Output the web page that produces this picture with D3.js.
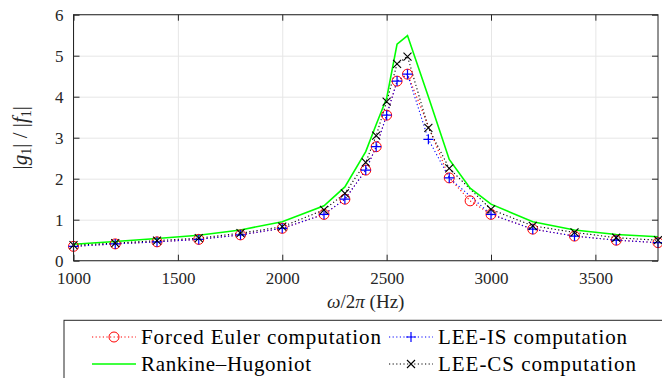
<!DOCTYPE html>
<html>
<head>
<meta charset="utf-8">
<style>
  body { margin: 0; background: #fff; font-family: "Liberation Serif", serif; }
  svg { display: block; }
</style>
</head>
<body>
<svg id="chart" width="662" height="378" font-family="Liberation Serif" style="font-family: Liberation Serif"></svg>
<script src="https://cdn.jsdelivr.net/npm/d3@7"></script>
<script>
// frequencies (Hz) and |g1|/|f1| values
const freqRH    = [1000,1200,1400,1600,1800,2000,2200,2300,2400,2450,2500,2550,2600,2700,2800,2900,3000,3200,3400,3600,3800];
const valRH     = [0.40,0.47,0.54,0.62,0.75,0.95,1.34,1.80,2.66,3.32,3.96,5.28,5.49,4.00,2.47,1.77,1.38,0.95,0.75,0.64,0.585];

const freqEuler = [1000,1200,1400,1600,1800,2000,2200,2300,2400,2450,2500,2550,2600,2800,2900,3000,3200,3400,3600,3800];
const valEuler  = [0.35,0.41,0.46,0.52,0.63,0.79,1.13,1.50,2.21,2.78,3.55,4.38,4.55,2.02,1.46,1.13,0.77,0.60,0.50,0.44];

const freqLEE   = [1000,1200,1400,1600,1800,2000,2200,2300,2400,2450,2500,2550,2600,2700,2800,3000,3200,3400,3600,3800];
const valIS     = [0.35,0.41,0.46,0.52,0.63,0.79,1.13,1.50,2.21,2.78,3.55,4.38,4.55,2.96,2.02,1.13,0.77,0.60,0.50,0.44];
const valCS     = [0.38,0.43,0.49,0.55,0.67,0.83,1.24,1.64,2.40,3.05,3.88,4.80,4.98,3.24,2.25,1.25,0.85,0.69,0.56,0.50];

const xTicks = [1000,1500,2000,2500,3000,3500];
const yTicks = [0,1,2,3,4,5,6];

const FONT = "Liberation Serif";
const svg = d3.select("#chart");
const pL = 73.5, pR = 658, pT = 14.7, pB = 260.7;

const x = d3.scaleLinear().domain([1000, 3800]).range([pL, pR]);
const y = d3.scaleLinear().domain([0, 6]).range([pB, pT]);

// grid
svg.append("g")
  .attr("transform", `translate(0,${pB})`)
  .call(d3.axisBottom(x).tickValues(xTicks).tickSize(-(pB - pT)).tickFormat(""))
  .call(g => g.select(".domain").remove())
  .call(g => g.selectAll("line").attr("stroke", "#e6e6e6"));
svg.append("g")
  .attr("transform", `translate(${pL},0)`)
  .call(d3.axisLeft(y).tickValues(yTicks).tickSize(-(pR - pL)).tickFormat(""))
  .call(g => g.select(".domain").remove())
  .call(g => g.selectAll("line").attr("stroke", "#e6e6e6"));

// series
const line = d3.line().x(d => x(d[0])).y(d => y(d[1]));
const zip = (a, b) => a.map((v, i) => [v, b[i]]);

const rh = zip(freqRH, valRH);
const euler = zip(freqEuler, valEuler);
const is = zip(freqLEE, valIS);
const cs = zip(freqLEE, valCS);

svg.append("path").datum(euler).attr("d", line)
  .attr("fill", "none").attr("stroke", "#ff0000").attr("stroke-width", 1.1).attr("stroke-dasharray", "1.2,2.4");
svg.append("path").datum(is).attr("d", line)
  .attr("fill", "none").attr("stroke", "#0000ff").attr("stroke-width", 1.1).attr("stroke-dasharray", "1.2,2.4");
svg.append("path").datum(cs).attr("d", line)
  .attr("fill", "none").attr("stroke", "#000").attr("stroke-width", 1.1).attr("stroke-dasharray", "1.2,2.4");
svg.append("path").datum(rh).attr("d", line)
  .attr("fill", "none").attr("stroke", "#00ff00").attr("stroke-width", 1.6);

// markers
function circleMark(g, px, py, col) {
  g.append("circle").attr("cx", px).attr("cy", py).attr("r", 5)
    .attr("fill", "none").attr("stroke", col).attr("stroke-width", 1);
}
function plusMark(g, px, py, col) {
  g.append("path").attr("d", `M${px - 5},${py}H${px + 5}M${px},${py - 5}V${py + 5}`)
    .attr("stroke", col).attr("stroke-width", 1.2);
}
function crossMark(g, px, py, col) {
  const s = 4;
  g.append("path").attr("d", `M${px - s},${py - s}L${px + s},${py + s}M${px - s},${py + s}L${px + s},${py - s}`)
    .attr("stroke", col).attr("stroke-width", 1.1);
}
const mk = svg.append("g");
euler.forEach(d => circleMark(mk, x(d[0]), y(d[1]), "#ff0000"));
is.forEach(d => plusMark(mk, x(d[0]), y(d[1]), "#0000ff"));
cs.forEach(d => crossMark(mk, x(d[0]), y(d[1]), "#000"));

// axes box with inward ticks
const axisCol = "#262626";
svg.append("rect").attr("x", pL).attr("y", pT).attr("width", pR - pL).attr("height", pB - pT)
  .attr("fill", "none").attr("stroke", axisCol).attr("stroke-width", 1);

const xb = svg.append("g").attr("transform", `translate(0,${pB})`)
  .call(d3.axisBottom(x).tickValues(xTicks).tickFormat(d3.format("d")).tickSizeInner(-6).tickSizeOuter(0).tickPadding(11));
const xt = svg.append("g").attr("transform", `translate(0,${pT})`)
  .call(d3.axisTop(x).tickValues(xTicks).tickSizeInner(-6).tickSizeOuter(0).tickFormat(""));
const yl = svg.append("g").attr("transform", `translate(${pL},0)`)
  .call(d3.axisLeft(y).tickValues(yTicks).tickFormat(d3.format("d")).tickSizeInner(-6).tickSizeOuter(0).tickPadding(10));
const yr = svg.append("g").attr("transform", `translate(${pR},0)`)
  .call(d3.axisRight(y).tickValues(yTicks).tickSizeInner(-6).tickSizeOuter(0).tickFormat(""));

[xb, xt, yl, yr].forEach(g => {
  g.attr("font-family", FONT).attr("font-size", 17);
  g.select(".domain").remove();
  g.selectAll("line").attr("stroke", axisCol);
  g.selectAll("text").attr("fill", axisCol).attr("font-family", FONT);
});

// axis labels
const xl = svg.append("text").attr("x", (pL + pR) / 2).attr("y", 308)
  .attr("font-family", FONT).attr("text-anchor", "middle").attr("font-size", 19).attr("fill", axisCol);
xl.append("tspan").attr("font-style", "italic").text("ω");
xl.append("tspan").text("/2");
xl.append("tspan").attr("font-style", "italic").text("π");
xl.append("tspan").text(" (Hz)");

const ylab = svg.append("text")
  .attr("transform", `translate(27,${(pT + pB) / 2}) rotate(-90)`)
  .attr("font-family", FONT).attr("text-anchor", "middle").attr("font-size", 21).attr("fill", axisCol);
ylab.append("tspan").text("|");
ylab.append("tspan").attr("font-style", "italic").text("g");
ylab.append("tspan").attr("font-size", 14).attr("dy", 4).text("1");
ylab.append("tspan").attr("dy", -4).text("| / |");
ylab.append("tspan").attr("font-style", "italic").text("f");
ylab.append("tspan").attr("font-size", 14).attr("dy", 4).text("1");
ylab.append("tspan").attr("dy", -4).text("|");

// legend
const legendItems = [
  { label: "Forced Euler computation", col: "#ff0000", dash: "1.2,2.4", mark: circleMark, lx: 92, rowY: 337, len: 240 },
  { label: "LEE-IS computation", col: "#0000ff", dash: "1.2,2.4", mark: plusMark, lx: 389, rowY: 337, len: 189 },
  { label: "Rankine–Hugoniot", col: "#00ff00", dash: null, mark: null, lx: 92, rowY: 364, len: 170 },
  { label: "LEE-CS computation", col: "#000", dash: "1.2,2.4", mark: crossMark, lx: 389, rowY: 364, len: 198 }
];
svg.append("rect").attr("x", 64).attr("y", 320.3).attr("width", 620).attr("height", 80)
  .attr("fill", "#fff").attr("stroke", axisCol).attr("stroke-width", 1);
const lg = svg.append("g").attr("font-family", FONT);
legendItems.forEach(d => {
  const l = lg.append("line").attr("x1", d.lx).attr("x2", d.lx + 44).attr("y1", d.rowY).attr("y2", d.rowY)
    .attr("stroke", d.col).attr("stroke-width", d.dash ? 1.1 : 1.6);
  if (d.dash) l.attr("stroke-dasharray", d.dash);
  if (d.mark) d.mark(lg, d.lx + 22, d.rowY, d.col);
  lg.append("text").attr("x", d.lx + 49).attr("y", d.rowY + 6.5).attr("font-size", 21)
    .attr("font-family", FONT)
    .attr("fill", "#000").attr("textLength", d.len).attr("lengthAdjust", "spacing").text(d.label);
});
</script>
</body>
</html>
